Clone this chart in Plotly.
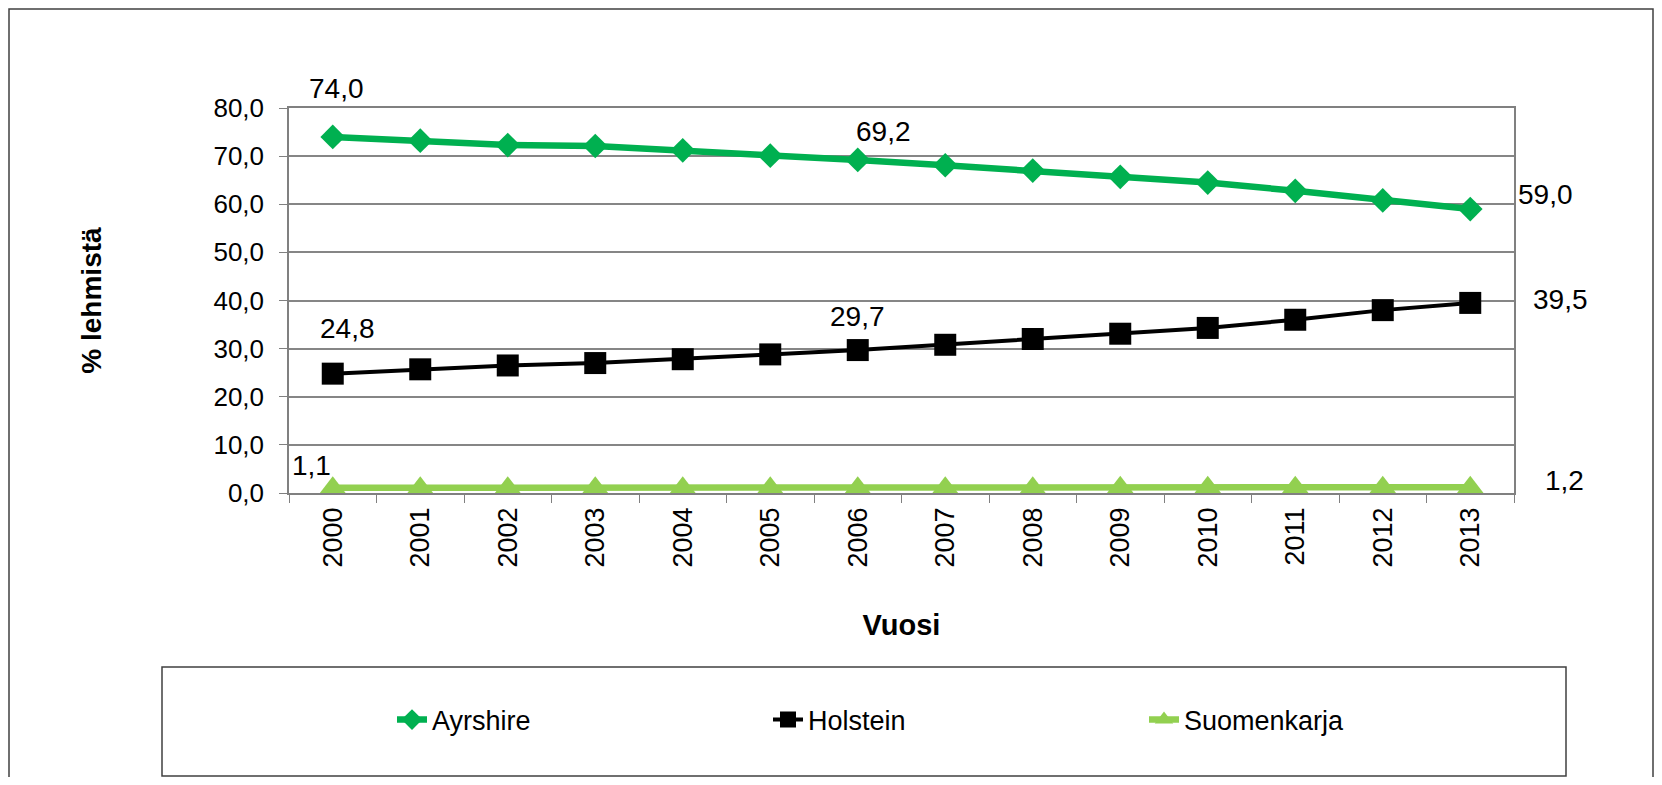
import plotly.graph_objects as go

# ---------- data ----------
years = [str(y) for y in range(2000, 2014)]

ayrshire = [74.0, 73.2, 72.3, 72.1, 71.2, 70.1, 69.2, 68.1, 67.0, 65.7, 64.5, 62.8, 60.8, 59.0]
holstein = [24.8, 25.7, 26.5, 27.0, 27.8, 28.8, 29.7, 30.8, 32.0, 33.1, 34.3, 36.0, 38.0, 39.5]
suomenkarja = [1.1, 1.1, 1.1, 1.1, 1.1, 1.1, 1.1, 1.1, 1.1, 1.2, 1.2, 1.2, 1.2, 1.2]

# which points get a value label: (index, x shift px, y shift px)
labels_ayr = [(0, 4, 48), (6, 26, 28), (13, 75, 15)]
labels_hol = [(0, 15, 45), (6, 0, 34), (13, 90, 3)]
labels_suo = [(0, -21, 22), (13, 94, 7)]

GREEN = "#00B050"
LIGHT = "#92D050"
FONT = "Liberation Sans, Arial, sans-serif"

# figure size (the page body adds an 8px margin around it)
W, H = 1646, 769
# plot area in figure pixels
L, R, T, B = 281, 1506, 100, 485


def px_x(p):
    return (p - L) / (R - L)


def px_y(p):
    return (B - p) / (B - T)


fig = go.Figure()

fig.add_trace(go.Scatter(
    x=years, y=ayrshire, name="Ayrshire", mode="lines+markers",
    line=dict(color=GREEN, width=6.5),
    marker=dict(symbol="diamond", size=19, color=GREEN),
    cliponaxis=False,
))
fig.add_trace(go.Scatter(
    x=years, y=holstein, name="Holstein", mode="lines+markers",
    line=dict(color="black", width=4),
    marker=dict(symbol="square", size=22, color="black"),
    cliponaxis=False,
))
fig.add_trace(go.Scatter(
    x=years, y=suomenkarja, name="Suomenkarja", mode="lines+markers",
    line=dict(color=LIGHT, width=6.5),
    marker=dict(symbol="triangle-up", size=23, color=LIGHT),
    cliponaxis=False,
))


def fmt(v):
    return f"{v:.1f}".replace(".", ",")


annotations = []
for series, labs in [(ayrshire, labels_ayr), (holstein, labels_hol), (suomenkarja, labels_suo)]:
    for i, dx, dy in labs:
        annotations.append(dict(
            x=i, y=series[i], xref="x", yref="y",
            text=fmt(series[i]), showarrow=False,
            xshift=dx, yshift=dy,
            font=dict(family=FONT, size=28, color="black"),
        ))

shapes = [
    # outer chart border
    dict(type="rect", xref="paper", yref="paper",
         x0=px_x(1), x1=px_x(W - 1), y0=px_y(H + 20), y1=px_y(1),
         line=dict(color="#404040", width=1.5)),
    # legend box
    dict(type="rect", xref="paper", yref="paper",
         x0=px_x(154), x1=px_x(1558), y0=px_y(768), y1=px_y(659),
         line=dict(color="#404040", width=1.5)),
]

fig.update_layout(
    width=W, height=H, autosize=False,
    margin=dict(l=L, r=W - R, t=T, b=H - B),
    paper_bgcolor="white", plot_bgcolor="white",
    separators=", ",
    font=dict(family=FONT, size=26, color="black"),
    showlegend=True,
    legend=dict(
        orientation="h", x=px_x(384), y=px_y(712),
        xanchor="left", yanchor="middle",
        font=dict(family=FONT, size=27),
        entrywidth=331, entrywidthmode="pixels",
        bgcolor="rgba(0,0,0,0)",
    ),
    annotations=annotations,
    shapes=shapes,
)

fig.update_xaxes(
    type="category", range=[-0.5, 13.5],
    tickangle=-90, tickson="boundaries",
    ticks="outside", ticklen=8, tickcolor="#808080",
    ticklabelstandoff=2,
    showline=True, linecolor="#808080", linewidth=1.5, mirror=True,
    showgrid=False,
    tickfont=dict(family=FONT, size=27),
    title=dict(text="<b>Vuosi</b>", font=dict(family=FONT, size=29), standoff=48),
    automargin=False,
)
fig.update_yaxes(
    range=[0, 80], dtick=10, tickformat=".1f",
    ticks="outside", ticklen=8, tickcolor="#808080",
    ticklabelstandoff=10,
    showline=True, linecolor="#808080", linewidth=1.5, mirror=True,
    showgrid=True, gridcolor="#868686", gridwidth=1.5,
    zeroline=False,
    tickfont=dict(family=FONT, size=26),
    title=dict(text="<b>% lehmistä</b>", font=dict(family=FONT, size=28), standoff=104),
    automargin=False,
)

fig.write_html("out.html")
